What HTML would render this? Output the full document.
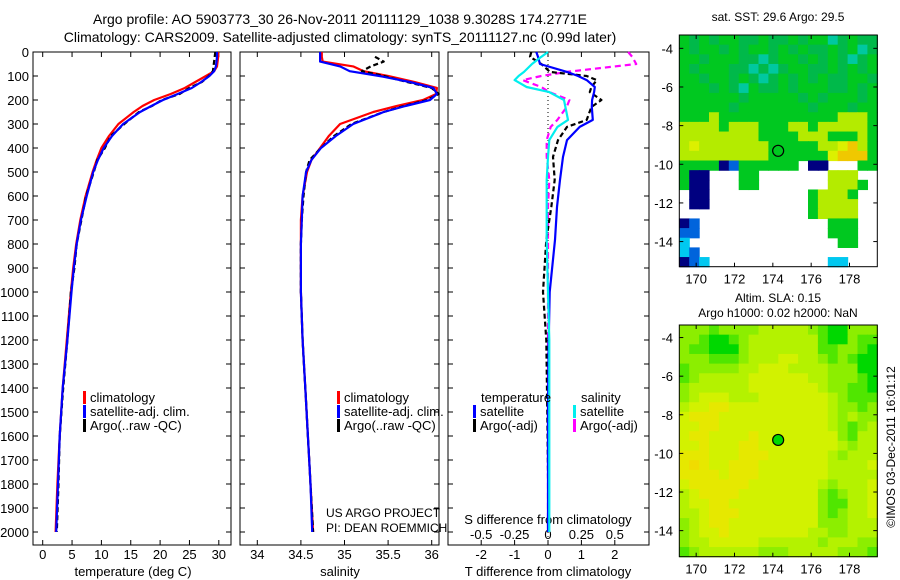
<!DOCTYPE html>
<html><head><meta charset="utf-8"><style>
html,body{margin:0;padding:0;background:#fff;}
svg{display:block;font-family:"Liberation Sans","DejaVu Sans",sans-serif;}
</style></head><body>
<svg id="c" width="900" height="580" viewBox="0 0 900 580">
<text x="340" y="24" font-size="14" text-anchor="middle">Argo profile: AO 5903773_30 26-Nov-2011 20111129_1038 9.3028S 174.2771E</text>
<text x="340" y="42" font-size="14" text-anchor="middle">Climatology: CARS2009. Satellite-adjusted climatology: synTS_20111127.nc (0.99d later)</text>
<text x="778" y="21" font-size="12" text-anchor="middle">sat. SST: 29.6 Argo: 29.5</text>
<text x="778" y="302" font-size="12" text-anchor="middle">Altim. SLA: 0.15</text>
<text x="778" y="317" font-size="12" text-anchor="middle">Argo h1000: 0.02 h2000: NaN</text>
<text transform="translate(895,447) rotate(-90)" font-size="12" text-anchor="middle">©IMOS 03-Dec-2011 16:01:12</text>
<g id="g"></g>
</svg>
<script>
// depth grid for profiles
const depths=[0,20,40,60,80,100,125,150,175,200,225,250,300,350,400,450,500,600,700,800,900,1000,1200,1400,1600,1800,2000];
const tempClim=[29.9,29.9,29.8,29.7,29.2,27.8,26.0,24.2,21.8,19.0,17.0,15.5,12.9,11.3,10.0,9.2,8.5,7.3,6.4,5.7,5.2,4.8,4.1,3.4,2.9,2.5,2.2];
const tempSat=[29.7,29.7,29.6,29.5,29.2,28.4,27.0,25.4,23.0,20.5,18.5,16.6,13.7,11.8,10.4,9.4,8.6,7.5,6.5,5.8,5.3,4.9,4.2,3.4,2.9,2.6,2.3];
const tempArgo=[29.4,29.3,29.2,29.1,29.0,28.3,27.1,25.0,23.3,20.3,18.6,16.4,13.9,11.6,10.6,9.3,8.7,7.4,6.6,5.8,5.4,4.8,4.2,3.5,2.9,2.7,2.4];
const salClim=[34.74,34.74,34.75,35.1,35.22,35.5,35.8,36.06,36.05,35.9,35.6,35.33,34.95,34.82,34.72,34.62,34.57,34.52,34.5,34.5,34.5,34.5,34.52,34.55,34.58,34.61,34.64];
const salSat=[34.72,34.72,34.72,34.95,35.06,35.4,35.75,36.02,36.06,35.98,35.7,35.45,35.1,34.9,34.73,34.62,34.56,34.52,34.51,34.5,34.5,34.5,34.52,34.55,34.58,34.61,34.63];
const salArgo=[null,35.35,35.45,35.3,35.2,35.45,35.72,36.0,36.08,35.95,35.68,35.45,35.08,34.88,34.73,34.6,34.56,34.53,34.51,34.5,34.5,34.5,34.52,34.55,34.58,34.61,34.64];
// difference panel
const diffDepths=[0,20,50,83,100,117,146,167,200,229,283,312,367,437,533,646,783,1000,1200,1500,2000];
const tDiffSat=[-0.35,-0.3,-0.24,0.57,0.9,1.16,1.4,1.38,1.32,1.31,1.34,0.95,0.57,0.45,0.36,0.27,0.21,0.05,0.02,0.0,0.0];
const tDiffArgo=[-0.5,-0.54,-0.2,0.06,1.16,1.46,1.3,1.25,1.6,1.3,1.16,0.57,0.3,0.15,0.2,0.1,-0.05,-0.15,-0.05,-0.02,0.02];
const sDiffSat=[0,-0.05,-0.12,-0.18,-0.22,-0.25,-0.16,0.01,0.12,0.13,0.15,0.07,0.01,0.0,-0.01,-0.01,-0.01,0.0,0.01,0.01,0.01];
const sDiffArgo=[0.6,0.63,0.66,0.14,-0.05,-0.19,-0.05,0.01,0.16,0.14,0.07,0.02,-0.01,-0.01,0.01,0.0,0.0,0.0,0.0,0.0,0.0];
const depthTicks=[0,100,200,300,400,500,600,700,800,900,1000,1100,1200,1300,1400,1500,1600,1700,1800,1900,2000];
const tempTicks=[0,5,10,15,20,25,30];
const salTicks=[34,34.5,35,35.5,36];
const salTickLabels=["34","34.5","35","35.5","36"];
const tdTicks=[-2,-1,0,1,2];
const sdTicks=[-0.5,-0.25,0,0.25,0.5];
const sdTickLabels=["-0.5","-0.25","0","0.25","0.5"];
const lonTicks=[170,172,174,176,178];
const latTicks=[-4,-6,-8,-10,-12,-14];
// map cell codes
const sstRows=["gGgGggGGgGGgGggcGgGG","gGggGgGggGgGgGGgGgcG","ggGgggGGcGggGgGgGcGg","gGgggGGcGcGggGGgGgGg","ggGggGgGcGgGgGgGGggG","gggGgGcgGGgGgggGGgGg","ggggggGgggggGgGgggGg","gggggGgggggggGgggGgg","gggyggggggggggggyyyg","yyyygyyygggyygyyyyyg","yyyyyyyyggggyyygggyg","yYyyyyyyygggggyyYoyg","yyyyyyyyyggggggYooog","ggggnbgggggg.nn...gg","gnn...gg.......yyy..","gnn...gg.......yyyg.",".nn..........gyyyg..",".nn..........gyyyy..",".............gyyyy..","nb.............ggg..","bb.............ggg..","C...............gg..","Cb..................","nbC............CC..."];
const slaRows=["cccbccccdddddcbaaccc","ccbaabcdddddddbaacbb","cbbaaacdddddddbbccba","cccbbbcdddeeddcbcbaa","bcccccddeeeddddcccaa","bcdddddeeeeeeddcccba","cddddddeeeeeeedccbba","cdeeedddeeeeeeedcbbb","deeffeeeeeeeeeedccbc","efffeeeeeeeeeeedcdcc","eeffeeeeeeeeeeedcbcd","effeeeefeeeeeeeecbdd","eefeeeffeeeeeeeedcdd","fffeeefffeeeeeedcddd","fgfeefffeeeeeeedddde","ffffefffeeeeeeeddddd","effffffeeeeeeedcddde","deffffeeeeeeeecbcdde","deeffeeeeeeeeecbbdde","ddefffeeeeeeeecbcdde","cdeffeeeeeeeeecccddd","cdeefeeeeeeeeddccddd","cddeeeeeddddddcdddcc","bcddddddcccdddddcccb"];
const argoLon=[174.2771];
const argoLat=[-9.3028];

const NS="http://www.w3.org/2000/svg";
const G=document.getElementById('g');
function el(t,a,p){const e=document.createElementNS(NS,t);for(const k in a)e.setAttribute(k,a[k]);(p||G).appendChild(e);return e;}
function txt(x,y,s,size,anchor,p){const e=el('text',{x:x,y:y,'font-size':size,'text-anchor':anchor||'middle'},p);e.textContent=s;return e;}
const yD=d=>52+d*0.24;
const TOP=52,BOT=545;
const panels=[
 {x0:33,x1:231,sx:v=>42.7+v*5.87,name:'temperature'},
 {x0:240,x1:439,sx:v=>257.3+(v-34)*87.2,name:'salinity'},
 {x0:448,x1:649,sx:v=>548+v*33.4,name:'difference'}];
const sxS=v=>548+v*133.6;

panels.forEach((p,i)=>{
  const f=el('rect',{x:p.x0,y:TOP,width:p.x1-p.x0,height:BOT-TOP,fill:'none',stroke:'#000','stroke-width':1});
  
  
  depthTicks.forEach(d=>{
    el('line',{x1:p.x0,x2:p.x0+5,y1:yD(d),y2:yD(d),stroke:'#000'});
    el('line',{x1:p.x1-5,x2:p.x1,y1:yD(d),y2:yD(d),stroke:'#000'});
  });
});
depthTicks.forEach(d=>{
  const t=txt(29,yD(d)+5,String(d),13,'end');
  
  
});
function xTicks(vals,labels,sx,ly,top){
  vals.forEach((v,i)=>{const x=sx(v);
    el('line',{x1:x,x2:x,y1:BOT,y2:BOT-5,stroke:'#000'});
    if(top)el('line',{x1:x,x2:x,y1:TOP,y2:TOP+5,stroke:'#000'});
    const t=txt(x,ly,labels[i],13);
    
    
  });
}
xTicks(tempTicks,tempTicks.map(String),panels[0].sx,559,true);
xTicks(salTicks,salTickLabels,panels[1].sx,559,true);
xTicks(tdTicks,tdTicks.map(String),panels[2].sx,559,true);
sdTicks.forEach((v,i)=>{const t=txt(sxS(v),539,sdTickLabels[i],13);
  
  });
let t;
t=txt(133,576,'temperature (deg C)',13);
t=txt(340,576,'salinity',13);
t=txt(548,576,'T difference from climatology',13);
t=txt(548,524,'S difference from climatology',13);
t=txt(326,517,'US ARGO PROJECT',12,'start');
t=txt(326,532,'PI: DEAN ROEMMICH',12,'start');

// zero line
el('line',{x1:548,x2:548,y1:TOP,y2:BOT,stroke:'#000','stroke-dasharray':'1,3'});

function line(ds,vs,sx,color,dash,name){
  let pts=[];ds.forEach((d,i)=>{if(vs[i]!==null)pts.push(sx(vs[i]).toFixed(1)+','+yD(d).toFixed(1));});
  const e=el('polyline',{points:pts.join(' '),fill:'none',stroke:color,'stroke-width':2.2,'stroke-dasharray':dash||'none','stroke-linejoin':'round'});
  
  
}
const sT=panels[0].sx,sS=panels[1].sx,sD=panels[2].sx;
line(depths,tempClim,sT,'#f00',null,'temp-climatology-line');
line(depths,tempArgo,sT,'#000','5,3','temp-argo-line');
line(depths,tempSat,sT,'#00f',null,'temp-satellite-line');
line(depths,salClim,sS,'#f00',null,'sal-climatology-line');
line(depths,salArgo,sS,'#000','5,3','sal-argo-line');
line(depths,salSat,sS,'#00f',null,'sal-satellite-line');
line(diffDepths,sDiffArgo,sxS,'#f0f','6,4','s-diff-argo-line');
line(diffDepths,tDiffArgo,sD,'#000','5,3','t-diff-argo-line');
line(diffDepths,tDiffSat,sD,'#00f',null,'t-diff-satellite-line');
line(diffDepths,sDiffSat,sxS,'#0ee',null,'s-diff-satellite-line');

function legend(x,ys,items){
  items.forEach((it,i)=>{
    el('rect',{x:x,y:ys[i]-11,width:3,height:13,fill:it[0]});
    const t=txt(x+7,ys[i],it[1],13,'start');
    
    
  });
}
const legItems=[['#f00','climatology'],['#00f','satellite-adj. clim.'],['#000','Argo(..raw -QC)']];
legend(83,[402,416,430],legItems);
legend(337,[402,416,430],legItems);
t=txt(481,402,'temperature',13,'start');
t=txt(581,402,'salinity',13,'start');
legend(473,[416,430],[['#00f','satellite'],['#000','Argo(-adj)']]);
legend(573,[416,430],[['#0ee','satellite'],['#f0f','Argo(-adj)']]);

// maps
const sstCol={g:'#00c820',G:'#00b94a',c:'#00c8a0',y:'#b4eb00',Y:'#dcf000',o:'#f0c800',n:'#000080',b:'#0064dc',C:'#00c8f0'};
const slaCol={a:'#00d800',b:'#50e600',c:'#8cee00',d:'#b4f200',e:'#d2f200',f:'#e6e800',g:'#f0dc00'};
function map(y0,y1,latTop,latBot,rows,cols,name){
  const x0=679.3,x1=877.3,lonL=169.12,lonR=179.45;
  const mx=v=>x0+(v-lonL)/(lonR-lonL)*(x1-x0);
  const my=v=>y0+(latTop-v)/(latTop-latBot)*(y1-y0);
  const nr=rows.length,nc=rows[0].length,cw=(x1-x0)/nc,ch=(y1-y0)/nr;
  rows.forEach((r,i)=>{for(let j=0;j<nc;j++){const c=cols[r[j]];if(!c)continue;
    el('rect',{x:x0+j*cw,y:y0+i*ch,width:cw+0.6,height:ch+0.6,fill:c});}});
  const f=el('rect',{x:x0,y:y0,width:x1-x0,height:y1-y0,fill:'none',stroke:'#000'});
  
  
  lonTicks.forEach(v=>{const x=mx(v);el('line',{x1:x,x2:x,y1:y1,y2:y1-4,stroke:'#000'});el('line',{x1:x,x2:x,y1:y0,y2:y0+4,stroke:'#000'});
    const t=txt(x,y1+17,String(v),13);});
  latTicks.forEach(v=>{const y=my(v);el('line',{x1:x0,x2:x0+4,y1:y,y2:y,stroke:'#000'});el('line',{x1:x1-4,x2:x1,y1:y,y2:y,stroke:'#000'});
    const t=txt(673,y+5,String(v),13,'end');});
  return {mx,my};
}
const m1=map(35,266.7,-3.31,-15.3,sstRows,sstCol,'sst-map');
const c1=el('circle',{cx:m1.mx(argoLon[0]),cy:m1.my(argoLat[0]),r:5.5,fill:'#00c820',stroke:'#000','stroke-width':1.2});


const m2=map(325,556.7,-3.35,-15.35,slaRows,slaCol,'sla-map');
const c2=el('circle',{cx:m2.mx(argoLon[0]),cy:m2.my(argoLat[0]),r:5.5,fill:'#00d800',stroke:'#000','stroke-width':1.2});


</script>
</body></html>
